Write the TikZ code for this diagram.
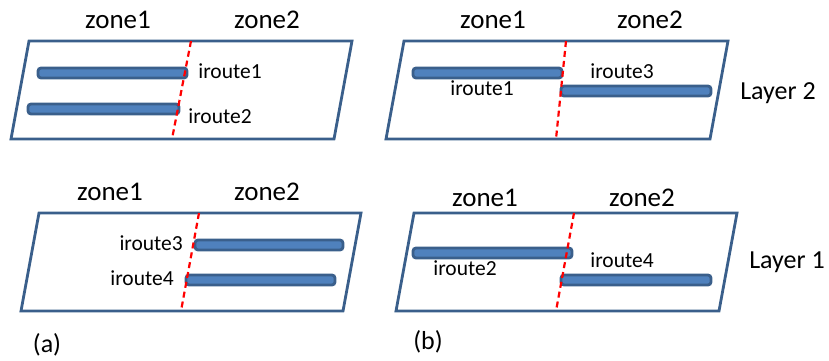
\documentclass[tikz,border=0pt]{standalone}
\usepackage{fontspec}
\setmainfont{Carlito}
\usepackage{xcolor}
\usetikzlibrary{positioning}
\definecolor{edgeblue}{HTML}{3A5F8B}
\definecolor{barblue}{HTML}{4F81BD}
\tikzset{
  plane/.style={draw=edgeblue, line width=2.8pt, line join=miter},
  cut/.style={draw=red, line width=2.2pt, dash pattern=on 6pt off 4pt},
  bar/.style={draw=edgeblue, fill=barblue, line width=2.8pt, rounded corners=3pt},
  zonelbl/.style={font=\fontsize{27}{30}\selectfont, inner sep=0pt},
  wirelbl/.style={font=\fontsize{21.5}{24}\selectfont, inner sep=0pt},
  layerlbl/.style={font=\fontsize{26}{29}\selectfont, inner sep=0pt},
}
% parallelogram: top-left x, top y, width
\newcommand{\plane}[3]{\draw[plane] (#1,#2) -- ++(#3,0) -- ++(-18,98) -- ++(-#3,0) -- cycle;}
% zone border: top x, top y, bottom x
\newcommand{\zonecut}[3]{\draw[cut] (#1,#2) -- (#3,#2+98);}
% iroute bar: from x, to x, middle y
\newcommand{\wire}[3]{\draw[bar] (#1,#3-5) rectangle (#2,#3+5);}

\begin{document}
\begin{tikzpicture}[x=1pt,y=-1pt]
  \useasboundingbox (0,0) rectangle (829,360);
  % (a) layer 2
  \plane{29}{41}{323}
  \wire{38}{187}{73}
  \wire{28}{179}{109}
  \zonecut{191}{41}{172}
  \node[zonelbl] (za1) at (118,20) {zone1};
  \node[zonelbl] (za2) at (267,20) {zone2};
  \node[wirelbl] (ra1) at (230,71) {iroute1};
  \node[wirelbl] (ra2) at (220,116) {iroute2};
  % (b) layer 2
  \plane{404}{41}{324}
  \wire{413}{562}{73}
  \wire{561}{711}{91}
  \zonecut{566}{41}{556}
  \node[zonelbl] (zb1) at (493,20) {zone1};
  \node[zonelbl] (zb2) at (650,20) {zone2};
  \node[wirelbl] (rb1) at (482,88) {iroute1};
  \node[wirelbl] (rb3) at (622,71) {iroute3};
  \node[layerlbl] (l2) at (778,93) {Layer 2};
  % (a) layer 1
  \plane{39}{213}{322}
  \wire{195}{343}{245}
  \wire{186}{335}{280}
  \zonecut{199}{213}{181}
  \node[zonelbl] (za3) at (110,192) {zone1};
  \node[zonelbl] (za4) at (267,192) {zone2};
  \node[wirelbl, anchor=east] (ra3) at (183,243) {iroute3};
  \node[wirelbl] (ra4) at (142,278) {iroute4};
  % (b) layer 1
  \plane{414}{213}{323}
  \wire{413}{572}{253}
  \wire{561}{711}{280}
  \zonecut{574}{213}{556}
  \node[zonelbl] (zb3) at (485,198) {zone1};
  \node[zonelbl] (zb4) at (642,198) {zone2};
  \node[wirelbl] (rb2) at (465,268) {iroute2};
  \node[wirelbl] (rb4) at (622,260) {iroute4};
  \node[layerlbl] (l1) at (787,262) {Layer 1};
  % captions
  \node[layerlbl] (capa) at (47,345) {(a)};
  \node[layerlbl] (capb) at (428,342) {(b)};
\end{tikzpicture}
\end{document}
